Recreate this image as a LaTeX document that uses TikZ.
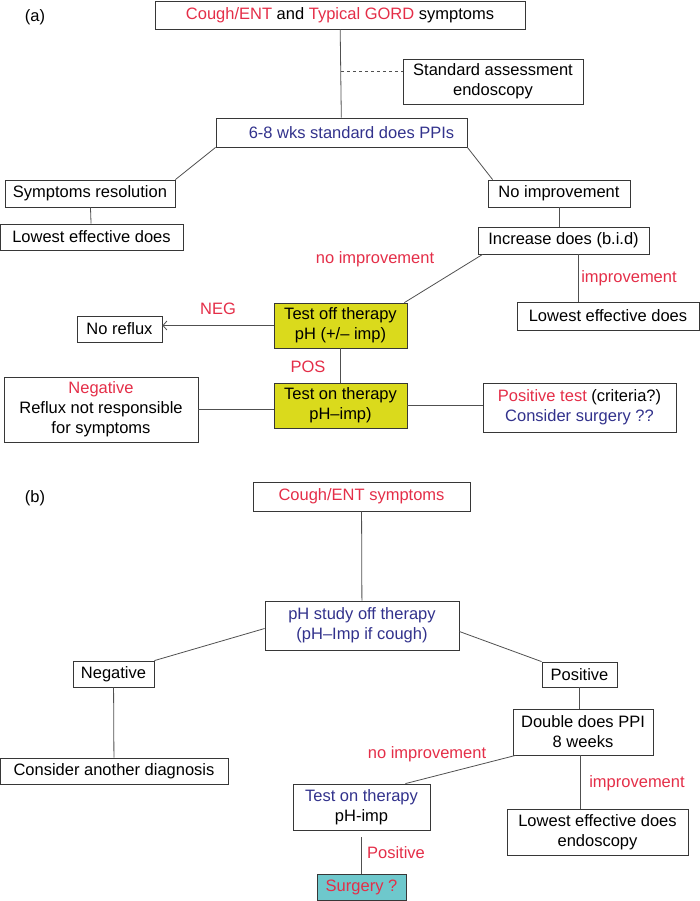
\documentclass[tikz,border=0pt]{standalone}
\usepackage{fontspec}
\setmainfont{Liberation Sans}
\usetikzlibrary{arrows.meta}
\definecolor{redtxt}{RGB}{228,46,72}
\definecolor{bluetxt}{RGB}{50,50,140}
\definecolor{yellowbox}{RGB}{218,218,28}
\definecolor{cyanbox}{RGB}{110,200,204}
\definecolor{boxgray}{RGB}{55,55,55}
\definecolor{linegray}{RGB}{80,80,80}
\begin{document}
\begin{tikzpicture}[x=1pt, y=-1pt, font=\fontsize{16.5}{20}\selectfont,
    box/.style={draw=boxgray, line width=0.8pt, inner sep=0pt, align=center},
    link/.style={draw=linegray, line width=0.8pt},
    lbl/.style={text=redtxt, inner sep=0pt}]
  \useasboundingbox (0,0) rectangle (700,901);

  % (a)
  \node (a) at (35,17) {(a)};
  \node[box, minimum width=370, minimum height=28] (top) at (340,15)
    {\textcolor{redtxt}{Cough/ENT} and \textcolor{redtxt}{Typical GORD} symptoms};
  \node[box, minimum width=180, minimum height=45] (std) at (493,81.5)
    {Standard assessment\\endoscopy};
  \node[box, minimum width=251, minimum height=29, text=bluetxt] (ppi) at (341.5,132.5)
    {\hspace*{20pt}6-8 wks standard does PPIs};
  \node[box, minimum width=170, minimum height=27] (res) at (90,193.5) {Symptoms resolution};
  \node[box, minimum width=183, minimum height=26] (low1) at (91.5,237) {Lowest effective does};
  \node[box, minimum width=142, minimum height=27] (noimp) at (559,193.5) {No improvement};
  \node[box, minimum width=171, minimum height=27] (incr) at (563.5,240.5) {Increase does (b.i.d)};
  \node[box, minimum width=182, minimum height=28] (low2) at (608,316) {Lowest effective does};
  \node[box, fill=yellowbox, minimum width=133, minimum height=45] (off) at (340.5,325.5)
    {Test off therapy\\pH (+/-- imp)};
  \node[box, minimum width=85, minimum height=26] (norefl) at (119.5,329) {No reflux};
  \node[box, fill=yellowbox, minimum width=133, minimum height=45] (on) at (340.5,405.5)
    {Test on therapy\\pH--imp)};
  \node[box, minimum width=194, minimum height=65] (neg) at (101,409.5)
    {\textcolor{redtxt}{Negative}\\Reflux not responsible\\for symptoms};
  \node[box, minimum width=193, minimum height=49] (pos) at (579.5,407.5)
    {\textcolor{redtxt}{Positive test} (criteria?)\\\textcolor{bluetxt}{Consider surgery ??}};

  \node[lbl] (l1) at (375,259) {no improvement};
  \node[lbl] (l2) at (629,278) {improvement};
  \node[lbl] (l3) at (218,309) {NEG};
  \node[lbl] (l4) at (308,367) {POS};

  \coordinate (d) at (341,71);
  \path[link] (top) edge (ppi);
  \draw[link, dashed] (d) -- (d -| std.west);
  \path[link] (ppi.south west) edge (res.north east);
  \path[link] (ppi.south east) edge ([xshift=5pt]noimp.north west);
  \path[link] (res) edge (low1);
  \draw[link] (noimp.south) -- (noimp.south |- incr.north);
  \path[link] ([xshift=5pt]incr.south west) edge ([xshift=-3pt]off.north east);
  \draw[link] ([xshift=15pt]incr.south) -- ([xshift=15pt]incr.south |- low2.north);
  \draw[link, -{Straight Barb[length=4pt, width=9pt]}] (off.west) -- (off.west -| norefl.east);
  \path[link] (off) edge (on);
  \draw[link] (neg.east) -- (neg.east -| on.west);
  \draw[link] (on.east) -- (on.east -| pos.west);

  % (b)
  \node (b) at (35,498) {(b)};
  \node[box, minimum width=217, minimum height=29, text=redtxt] (cough) at (361.5,496.5)
    {Cough/ENT symptoms};
  \node[box, minimum width=194, minimum height=49, text=bluetxt] (study) at (362,625.5)
    {pH study off therapy\\(pH--Imp if cough)};
  \node[box, minimum width=81, minimum height=26] (negb) at (113.5,674) {Negative};
  \node[box, minimum width=75, minimum height=25] (posb) at (579.5,674.5) {Positive};
  \node[box, minimum width=228, minimum height=26] (diag) at (114,771) {Consider another diagnosis};
  \node[box, minimum width=140, minimum height=46] (dbl) at (583,732) {Double does PPI\\8 weeks};
  \node[box, minimum width=137, minimum height=46] (tonb) at (361.5,807)
    {\textcolor{bluetxt}{Test on therapy}\\pH-imp};
  \node[box, minimum width=181, minimum height=46] (lowb) at (597.5,832)
    {Lowest effective does\\endoscopy};
  \node[box, fill=cyanbox, minimum width=89, minimum height=26, text=redtxt] (surg) at (361.5,887)
    {Surgery ?};

  \node[lbl] (l5) at (427,754) {no improvement};
  \node[lbl] (l6) at (637,783) {improvement};
  \node[lbl] (l7) at (396,853) {Positive};

  \path[link] (cough) edge (study);
  \path[link] ([yshift=-3pt]study.west) edge (negb.north east);
  \path[link] ([yshift=-6pt]study.east) edge (posb.north west);
  \path[link] (negb) edge (diag);
  \draw[link] (posb.south) -- (posb.south |- dbl.north);
  \path[link] ([xshift=3pt]dbl.south west) edge ([xshift=-25pt]tonb.north east);
  \draw[link] ([xshift=-3pt]dbl.south) -- ([xshift=-3pt]dbl.south |- lowb.north);
  \draw[link] ([yshift=-7pt]tonb.south) -- (surg.north);
\end{tikzpicture}
\end{document}
